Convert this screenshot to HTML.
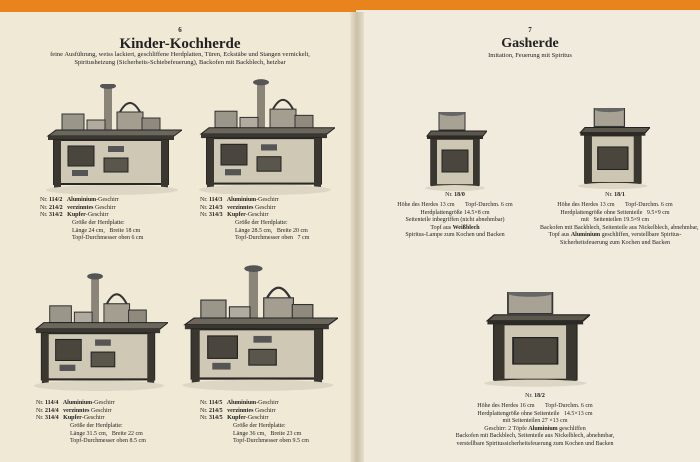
<!DOCTYPE html>
<html><head><meta charset="utf-8"><style>
body{margin:0;width:700px;height:462px;overflow:hidden;background:#e8831e;font-family:"Liberation Serif",serif;color:#222}
.pg{position:absolute;background:#f1ecdc}
.t{position:absolute;white-space:nowrap;font-size:6px;line-height:7.5px}
.c{text-align:center}
b{font-weight:bold}
svg{position:absolute}
</style></head><body>
<div class="pg" style="left:0;top:12px;width:356px;height:450px;background:#efe9d6"></div>
<div class="pg" style="left:356px;top:10px;width:344px;height:452px;background:#f0ebdc"></div>
<div style="position:absolute;left:350px;top:12px;width:14px;height:450px;background:linear-gradient(90deg,#e9e2cc,#c9c0a6,#e6dfca)"></div>

<div class="t c" style="left:0;width:360px;top:27px;font-size:7px;font-weight:bold">6</div>
<div class="t c" style="left:0;width:360px;top:36px;font-size:15px;line-height:16px;font-weight:bold">Kinder-Kochherde</div>
<div class="t c" style="left:0;width:360px;top:51px;font-size:6.5px">feine Ausführung, weiss lackiert, geschliffene Herdplatten, Türen, Eckstäbe und Stangen vernickelt,<br>Spiritusheizung (Sicherheits-Schiebefeuerung), Backofen mit Backblech, heizbar</div>

<div class="t c" style="left:360px;width:340px;top:27px;font-size:7px;font-weight:bold">7</div>
<div class="t c" style="left:360px;width:340px;top:36px;font-size:14px;line-height:16px;font-weight:bold">Gasherde</div>
<div class="t c" style="left:360px;width:340px;top:52px;font-size:6.5px">Imitation, Feuerung mit Spiritus</div>

<svg width="0" height="0"><defs>
<g id="st">
<rect x="62" y="0" width="8" height="50" fill="#8a8578"/>
<ellipse cx="66" cy="2" rx="8" ry="3" fill="#555"/>
<rect x="20" y="30" width="22" height="16" fill="#9a968a" stroke="#333"/>
<rect x="45" y="36" width="18" height="12" fill="#b0ab9e" stroke="#333"/>
<rect x="75" y="28" width="26" height="20" fill="#a39e90" stroke="#333"/>
<path d="M78 28 Q88 10 98 28" fill="none" stroke="#333" stroke-width="2"/>
<rect x="100" y="34" width="18" height="14" fill="#8f8a7d" stroke="#333"/>
<polygon points="6,52 132,52 140,46 14,46" fill="#6b675c" stroke="#222"/>
<rect x="6" y="52" width="126" height="4" fill="#3a3730"/>
<rect x="12" y="56" width="114" height="44" fill="#cfc8b4" stroke="#2a2824" stroke-width="2"/>
<rect x="12" y="56" width="7" height="48" fill="#3a3730"/>
<rect x="119" y="56" width="7" height="48" fill="#3a3730"/>
<rect x="26" y="62" width="26" height="20" fill="#4a463d" stroke="#222"/>
<rect x="62" y="74" width="24" height="14" fill="#5a564c" stroke="#222"/>
<rect x="66" y="62" width="16" height="6" fill="#555"/>
<rect x="30" y="86" width="16" height="6" fill="#555"/>
<ellipse cx="70" cy="106" rx="66" ry="5" fill="#ddd6c4"/>
</g>
<g id="gs">
<rect x="14" y="0" width="26" height="18" fill="#a7a294" stroke="#333"/>
<ellipse cx="27" cy="1" rx="13" ry="3" fill="#666"/>
<polygon points="2,24 58,24 62,19 6,19" fill="#5b574d" stroke="#222"/>
<rect x="2" y="24" width="56" height="3" fill="#2e2b26"/>
<rect x="6" y="27" width="48" height="46" fill="#cdc6b2" stroke="#2a2824" stroke-width="1.5"/>
<rect x="6" y="27" width="6" height="50" fill="#3a3730"/>
<rect x="48" y="27" width="6" height="50" fill="#3a3730"/>
<rect x="17" y="38" width="26" height="22" fill="#4a463d" stroke="#222"/>
<ellipse cx="30" cy="76" rx="30" ry="3" fill="#ddd6c4"/>
</g>
</defs></svg>

<svg style="left:42px;top:84px" width="140" height="112" viewBox="0 0 140 112"><use href="#st"/></svg>
<svg style="left:195px;top:74px" width="140" height="122" viewBox="0 -6 140 118" preserveAspectRatio="none"><use href="#st"/></svg>
<svg style="left:30px;top:268px" width="138" height="124" viewBox="0 -6 140 118" preserveAspectRatio="none"><use href="#st"/></svg>
<svg style="left:178px;top:244px" width="160" height="148" viewBox="0 -20 140 132" preserveAspectRatio="none"><use href="#st"/></svg>

<svg style="left:425px;top:112px" width="62" height="80" viewBox="0 0 62 80"><use href="#gs"/></svg>
<svg style="left:578px;top:108px" width="72" height="82" viewBox="0 0 62 80" preserveAspectRatio="none"><use href="#gs"/></svg>
<svg style="left:484px;top:292px" width="106" height="96" viewBox="0 0 62 80" preserveAspectRatio="none"><use href="#gs"/></svg>

<div class="t" style="left:40px;top:197px">Nr. <b>114/2</b> &nbsp; <b>Aluminium</b>-Geschirr<br>Nr. <b>214/2</b> &nbsp; <b>verzinntes</b> Geschirr<br>Nr. <b>314/2</b> &nbsp; <b>Kupfer</b>-Geschirr</div>
<div class="t" style="left:72px;top:220px">Größe der Herdplatte:<br>Länge 24 cm, &nbsp; Breite 18 cm<br>Topf-Durchmesser oben 6 cm</div>
<div class="t" style="left:200px;top:197px">Nr. <b>114/3</b> &nbsp; <b>Aluminium</b>-Geschirr<br>Nr. <b>214/3</b> &nbsp; <b>verzinntes</b> Geschirr<br>Nr. <b>314/3</b> &nbsp; <b>Kupfer</b>-Geschirr</div>
<div class="t" style="left:235px;top:220px">Größe der Herdplatte:<br>Länge 28.5 cm, &nbsp; Breite 20 cm<br>Topf-Durchmesser oben &nbsp; 7 cm</div>
<div class="t" style="left:36px;top:400px">Nr. <b>114/4</b> &nbsp; <b>Aluminium</b>-Geschirr<br>Nr. <b>214/4</b> &nbsp; <b>verzinntes</b> Geschirr<br>Nr. <b>314/4</b> &nbsp; <b>Kupfer</b>-Geschirr</div>
<div class="t" style="left:70px;top:423px">Größe der Herdplatte:<br>Länge 31.5 cm, &nbsp; Breite 22 cm<br>Topf-Durchmesser oben 8.5 cm</div>
<div class="t" style="left:200px;top:400px">Nr. <b>114/5</b> &nbsp; <b>Aluminium</b>-Geschirr<br>Nr. <b>214/5</b> &nbsp; <b>verzinntes</b> Geschirr<br>Nr. <b>314/5</b> &nbsp; <b>Kupfer</b>-Geschirr</div>
<div class="t" style="left:233px;top:423px">Größe der Herdplatte:<br>Länge 36 cm, &nbsp; Breite 23 cm<br>Topf-Durchmesser oben 9.5 cm</div>

<div class="t c" style="left:385px;width:140px;top:192px">Nr. <b>18/0</b></div>
<div class="t c" style="left:385px;width:140px;top:202px">Höhe des Herdes 13 cm &nbsp; &nbsp; &nbsp; Topf-Durchm. 6 cm<br>Herdplattengröße 14.5×8 cm<br>Seitenteile inbegriffen (nicht abnehmbar)<br>Topf aus <b>Weißblech</b><br>Spiritus-Lampe zum Kochen und Backen</div>
<div class="t c" style="left:540px;width:150px;top:192px">Nr. <b>18/1</b></div>
<div class="t c" style="left:540px;width:150px;top:202px">Höhe des Herdes 13 cm &nbsp; &nbsp; &nbsp; Topf-Durchm. 6 cm<br>Herdplattengröße ohne Seitenteile &nbsp; 9.5×9 cm<br>mit &nbsp; Seitenteilen 19.5×9 cm<br>Backofen mit Backblech, Seitenteile aus Nickelblech, abnehmbar,<br>Topf aus <b>Aluminium</b> geschliffen, verstellbare Spiritus-<br>Sicherheitsfeuerung zum Kochen und Backen</div>
<div class="t c" style="left:460px;width:150px;top:393px">Nr. <b>18/2</b></div>
<div class="t c" style="left:455px;width:160px;top:403px">Höhe des Herdes 16 cm &nbsp; &nbsp; &nbsp; Topf-Durchm. 6 cm<br>Herdplattengröße ohne Seitenteile &nbsp; 14.5×13 cm<br>mit Seitenteilen 27 ×13 cm<br>Geschirr: 2 Töpfe <b>Aluminium</b> geschliffen<br>Backofen mit Backblech, Seitenteile aus Nickelblech, abnehmbar,<br>verstellbare Spiritussicherheitsfeuerung zum Kochen und Backen</div>
</body></html>
